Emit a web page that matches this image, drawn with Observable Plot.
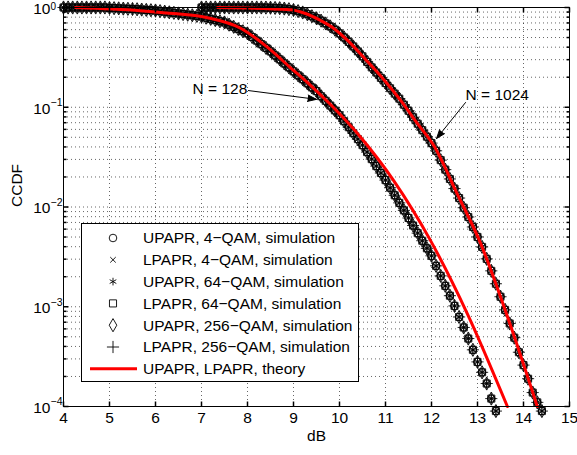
<!DOCTYPE html>
<html><head><meta charset="utf-8">
<script src="https://cdn.jsdelivr.net/npm/d3@7"></script>
<script src="https://cdn.jsdelivr.net/npm/@observablehq/plot@0.6"></script>
<style>
body{margin:0;background:#fff;}
#wrap{position:relative;width:577px;height:455px;font-family:"Liberation Sans",Arial,Helvetica,sans-serif;}
#legend{position:absolute;left:81px;top:223px;}
</style></head><body><div id="wrap"></div>
<script>
// ---- data ----
const dB128 = [4.0,4.1,4.2,4.3,4.4,4.5,4.6,4.7,4.8,4.9,
 5.0,5.1,5.2,5.3,5.4,5.5,5.6,5.7,5.8,5.9,
 6.0,6.1,6.2,6.3,6.4,6.5,6.6,6.7,6.8,6.9,
 7.0,7.1,7.2,7.3,7.4,7.5,7.6,7.7,7.8,7.9,
 8.0,8.1,8.2,8.3,8.4,8.5,8.6,8.7,8.8,8.9,
 9.0,9.1,9.2,9.3,9.4,9.5,9.6,9.7,9.8,9.9,
 10.0,10.1,10.2,10.3,10.4,10.5,10.6,10.7,10.8,10.9,
 11.0,11.1,11.2,11.3,11.4,11.5,11.6,11.7,11.8,11.9,
 12.0,12.1,12.2,12.3,12.4,12.5,12.6,12.7,12.8,12.9,
 13.0,13.1,13.2,13.3,13.4];
const ccdf128 = [1,1,1,1,1,1,1,1,1,1,
 0.99,0.985,0.98,0.975,0.97,0.966,0.96,0.953,0.946,0.94,
 0.933,0.92,0.908,0.895,0.883,0.871,0.859,0.847,0.836,0.824,
 0.813,0.79,0.769,0.748,0.728,0.708,0.673,0.64,0.608,0.578,
 0.55,0.506,0.466,0.429,0.394,0.363,0.331,0.302,0.275,0.251,
 0.229,0.209,0.191,0.174,0.158,0.145,0.129,0.116,0.104,0.0929,
 0.0832,0.0724,0.0631,0.055,0.0479,0.0417,0.0355,0.0302,0.0257,0.0219,
 0.0186,0.0156,0.0131,0.011,0.00925,0.00776,0.00652,0.00547,0.00459,0.00385,
 0.00324,0.00257,0.00204,0.00162,0.00129,0.00102,0.00079,0.00062,0.00048,0.00037,
 0.00028,0.00022,0.00017,0.00012,0.00009];
const dB1024 = [7.0,7.1,7.2,7.3,7.4,7.5,7.6,7.7,7.8,7.9,
 8.0,8.1,8.2,8.3,8.4,8.5,8.6,8.7,8.8,8.9,
 9.0,9.1,9.2,9.3,9.4,9.5,9.6,9.7,9.8,9.9,
 10.0,10.1,10.2,10.3,10.4,10.5,10.6,10.7,10.8,10.9,
 11.0,11.1,11.2,11.3,11.4,11.5,11.6,11.7,11.8,11.9,
 12.0,12.1,12.2,12.3,12.4,12.5,12.6,12.7,12.8,12.9,
 13.0,13.1,13.2,13.3,13.4,13.5,13.6,13.7,13.8,13.9,
 14.0,14.1,14.2,14.3,14.4];
const ccdf1024 = [1,1,1,1,1,1,1,1,1,1,
 1,1,1,1,0.998,0.995,0.99,0.985,0.975,0.962,
 0.944,0.92,0.891,0.857,0.818,0.78,0.738,0.692,0.646,0.6,
 0.55,0.501,0.452,0.407,0.363,0.324,0.285,0.251,0.223,0.197,
 0.175,0.155,0.137,0.122,0.106,0.0923,0.0794,0.0684,0.0589,0.0507,
 0.0437,0.0366,0.0295,0.0237,0.0191,0.0153,0.0123,0.00984,0.00794,0.00631,
 0.00501,0.00398,0.00302,0.00229,0.0017,0.00126,0.00093,0.00068,0.00049,0.00035,
 0.00026,0.00019,0.000138,0.00011,0.00009];
const thDb128 = [4.26,5.67,6.39,7.13,7.85,8.43,8.93,9.37,9.80,10.46,11.17,11.98,12.78,13.65];
const thCcdf128 = [1.0,0.93,0.87,0.79,0.62,0.40,0.25,0.166,0.107,0.050,0.0186,0.0046,0.00085,0.0001];
const thDb1024 = [7.35,8.93,9.26,9.59,9.87,10.17,10.57,10.96,11.33,11.70,12.04,12.57,13.07,13.57,14.30];
const thCcdf1024 = [1.0,0.95,0.87,0.74,0.62,0.47,0.30,0.19,0.117,0.068,0.042,0.0132,0.0043,0.00102,0.0001];

const seriesNames = ["UPAPR, 4−QAM, simulation","LPAPR, 4−QAM, simulation","UPAPR, 64−QAM, simulation",
 "LPAPR, 64−QAM, simulation","UPAPR, 256−QAM, simulation","LPAPR, 256−QAM, simulation"];
const theoryName = "UPAPR, LPAPR, theory";
const seriesSymbols = [d3.symbolCircle, d3.symbolTimes, d3.symbolAsterisk, d3.symbolSquare, d3.symbolDiamond, d3.symbolPlus];
const seriesR = [3.8, 2.6, 3.6, 4.0, 4.0, 4.0];

const xTickVals = [4,5,6,7,8,9,10,11,12,13,14,15];
const yMajor = [1,0.1,0.01,0.001,0.0001];
const yExponents = ["0","−1","−2","−3","−4"];
const yMantissas = [2,3,4,5,6,7,8,9];
const xLabel = "dB", yLabel = "CCDF";

const annotText = ["N = 128","N = 1024"];
const annotX = [7.40,13.43], annotY = [0.151,0.134];
const arrowX1 = [8.02,12.74], arrowY1 = [0.147,0.1116];
const arrowX2 = [9.50,12.11], arrowY2 = [0.12,0.0486];

// ---- build ----
const FS = 15.5;
const FONT = '"Liberation Sans", Arial, Helvetica, sans-serif';
const sim128 = dB128.map((x,i)=>({x, y: ccdf128[i]}));
const sim1024 = dB1024.map((x,i)=>({x, y: ccdf1024[i]}));
const th128 = thDb128.map((x,i)=>({x, y: thCcdf128[i]}));
const th1024 = thDb1024.map((x,i)=>({x, y: thCcdf1024[i]}));
const yMinor = [];
yMajor.slice(1).forEach(d => yMantissas.forEach(m => yMinor.push(+(d*m).toPrecision(3))));
const yGrid = yMinor.concat(yMajor.slice(1,4));

const tick = (dx,dy) => ({draw(ctx){ ctx.moveTo(0,0); ctx.lineTo(dx,dy); }});

const simMarks = [];
seriesSymbols.forEach((sym,s) => {
  [sim128, sim1024].forEach(data => simMarks.push(
    Plot.dot(data, {x:"x", y:"y", symbol: sym, r:seriesR[s], stroke:"black", fill:"none", strokeWidth:0.85})
  ));
});

const annots = annotText.map((t,i)=>({t, x:annotX[i], y:annotY[i], x1:arrowX1[i], y1:arrowY1[i], x2:arrowX2[i], y2:arrowY2[i]}));
const yLab = yMajor.map((v,i)=>({v, e:yExponents[i]}));

const chart = Plot.plot({
  width: 577, height: 455,
  marginLeft: 63, marginRight: 8, marginTop: 7, marginBottom: 49,
  x: {domain: [4,15], axis: null},
  y: {type: "log", domain: [1e-4, 1], axis: null},
  style: {fontFamily: FONT, fontSize: FS+"px", background: "white", color: "black", overflow: "visible"},
  marks: [
    Plot.ruleX(xTickVals.slice(1,-1), {x: d=>d, stroke:"black", strokeOpacity:0.6, strokeDasharray:"1,3"}),
    Plot.ruleY(yGrid, {y: d=>d, stroke:"black", strokeOpacity:0.6, strokeDasharray:"1,3"}),
    ...simMarks,
    Plot.line(th128, {x:"x", y:"y", stroke:"red", strokeWidth:3, curve:"monotone-x"}),
    Plot.line(th1024, {x:"x", y:"y", stroke:"red", strokeWidth:3, curve:"monotone-x"}),
    // ticks (inside, all four sides)
    Plot.dot(xTickVals, {x:d=>d, frameAnchor:"bottom", symbol: tick(0,-5), stroke:"black", fill:"none", r:1}),
    Plot.dot(xTickVals, {x:d=>d, frameAnchor:"top", symbol: tick(0,5), stroke:"black", fill:"none", r:1}),
    Plot.dot(yMajor, {y:d=>d, frameAnchor:"left", symbol: tick(5,0), stroke:"black", fill:"none", r:1}),
    Plot.dot(yMajor, {y:d=>d, frameAnchor:"right", symbol: tick(-5,0), stroke:"black", fill:"none", r:1}),
    Plot.dot(yMinor, {y:d=>d, frameAnchor:"left", symbol: tick(3,0), stroke:"black", fill:"none", r:1}),
    Plot.dot(yMinor, {y:d=>d, frameAnchor:"right", symbol: tick(-3,0), stroke:"black", fill:"none", r:1}),
    // tick labels
    Plot.text(xTickVals, {x:d=>d, frameAnchor:"bottom", dy:16, text:d=>String(d)}),
    Plot.text(yLab, {y:"v", frameAnchor:"left", textAnchor:"end", dx:-13, dy:1.5, text:()=>"10"}),
    Plot.text(yLab.slice(0,1), {y:"v", frameAnchor:"left", textAnchor:"start", dx:-13, dy:-0.5, fontSize:10, text:"e"}),
    Plot.text(yLab.slice(1), {y:"v", frameAnchor:"left", textAnchor:"start", dx:-13, dy:-4.5, fontSize:10.5, text:"e"}),
    Plot.text([xLabel], {frameAnchor:"bottom", dy:34, text:d=>d}),
    Plot.text([yLabel], {frameAnchor:"left", dx:-46, rotate:-90, text:d=>d}),
    // annotations
    Plot.text(annots, {x:"x", y:"y", text:"t"}),
    Plot.arrow(annots, {x1:"x1", y1:"y1", x2:"x2", y2:"y2", stroke:"black", fill:"black", strokeWidth:1, headLength:14, headAngle:40}),
    Plot.frame({stroke:"black", strokeWidth:1})
  ]
});
document.getElementById("wrap").appendChild(chart);

// ---- legend (inside the axes, like the original) ----
const LW = 278, LH = 159, rowH = 21.8;
const leg = d3.select("#wrap").append("svg").attr("id","legend").attr("width",LW).attr("height",LH)
  .style("font-family",FONT).style("font-size",FS+"px");
leg.append("rect").attr("x",0.5).attr("y",0.5).attr("width",LW-1).attr("height",LH-1).attr("fill","white").attr("stroke","black").attr("stroke-width",1);
seriesNames.forEach((name,i)=>{
  const cy = 15 + i*rowH;
  leg.append("path").attr("d", d3.symbol(seriesSymbols[i], Math.PI*seriesR[i]*seriesR[i])()).attr("transform",`translate(32,${cy})`)
    .attr("fill","none").attr("stroke","black").attr("stroke-width",0.9);
  leg.append("text").attr("x",62).attr("y",cy).attr("dy","0.35em").text(name);
});
const cyT = 15 + 6*rowH;
leg.append("line").attr("x1",9).attr("x2",56).attr("y1",cyT).attr("y2",cyT).attr("stroke","red").attr("stroke-width",3);
leg.append("text").attr("x",62).attr("y",cyT).attr("dy","0.35em").text(theoryName);
</script></body></html>
